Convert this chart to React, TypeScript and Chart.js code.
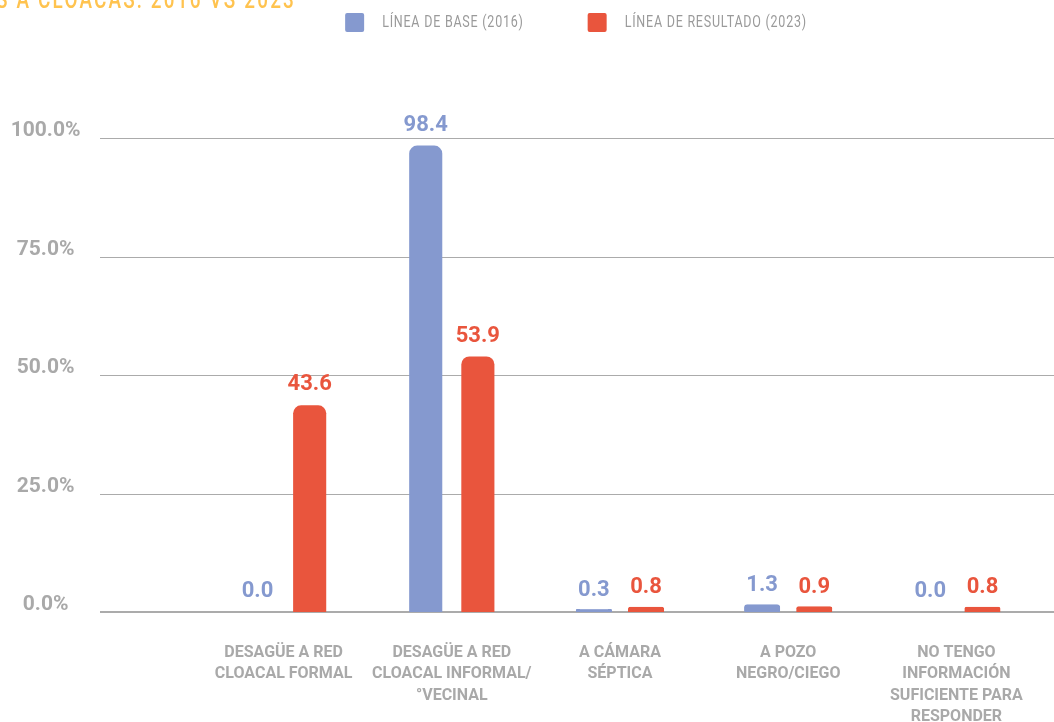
import React, { useEffect, useRef } from 'react';
import { Chart, registerables } from 'chart.js';

Chart.register(...registerables);

// ---- data ----
const categories: string[][] = [
  ['DESAGÜE A RED', 'CLOACAL FORMAL'],
  ['DESAGÜE A RED', 'CLOACAL INFORMAL/', '°VECINAL'],
  ['A CÁMARA', 'SÉPTICA'],
  ['A POZO', 'NEGRO/CIEGO'],
  ['NO TENGO', 'INFORMACIÓN', 'SUFICIENTE PARA', 'RESPONDER'],
];
const base2016 = [0.0, 98.4, 0.3, 1.3, 0.0];
const result2023 = [43.6, 53.9, 0.8, 0.9, 0.8];
const seriesNames = ['LÍNEA DE BASE (2016)', 'LÍNEA DE RESULTADO (2023)'];
const yTickValues = [0, 25, 50, 75, 100];
const titleText = 'S A CLOACAS: 2016 VS 2023';

// ---- styles ----
const BLUE = '#8599CF';
const RED = '#E9553D';
const GRID = '#ABABAB';
const AXIS_TEXT = '#A9A9A9';

const overlayPlugin = {
  id: 'overlay',
  beforeDatasetsDraw(chart: any) {
    const ctx = chart.ctx;
    const y = chart.scales.y;
    ctx.save();
    ctx.strokeStyle = GRID;
    y.ticks.forEach((t: any) => {
      const py = Math.round(y.getPixelForValue(t.value));
      ctx.lineWidth = t.value === 0 ? 2 : 1;
      ctx.beginPath();
      const off = t.value === 0 ? 0 : 0.5;
      ctx.moveTo(100, py + off);
      ctx.lineTo(chart.width, py + off);
      ctx.stroke();
    });
    ctx.restore();
  },
  afterDatasetsDraw(chart: any) {
    const ctx = chart.ctx;
    ctx.save();
    ctx.font = 'bold 22px Roboto, sans-serif';
    ctx.textAlign = 'center';
    ctx.textBaseline = 'alphabetic';
    chart.data.datasets.forEach((ds: any, di: number) => {
      const meta = chart.getDatasetMeta(di);
      ctx.fillStyle = ds.backgroundColor;
      meta.data.forEach((bar: any, i: number) => {
        const v = ds.data[i] as number;
        ctx.fillText(v.toFixed(1), bar.x, bar.y - 15);
      });
    });
    ctx.restore();
  },
  afterDraw(chart: any) {
    const ctx = chart.ctx;
    // title (cut off at the top-left, as in the reference)
    ctx.save();
    ctx.font = '500 26px Roboto, sans-serif';
    (ctx as any).letterSpacing = '3px';
    ctx.fillStyle = '#FFC34F';
    ctx.textBaseline = 'alphabetic';
    ctx.textAlign = 'left';
    const tw = ctx.measureText(titleText).width;
    const tsx = 300 / tw;
    ctx.translate(-4, 8);
    ctx.scale(tsx, 1);
    ctx.fillText(titleText, 0, 0);
    ctx.restore();

    // legend
    ctx.save();
    ctx.font = '16px Roboto, sans-serif';
    (ctx as any).letterSpacing = '1px';
    ctx.textBaseline = 'middle';
    ctx.textAlign = 'left';
    const sx = 0.78;
    const box = 19, gapText = 18, gapItem = 64;
    const widths = chart.data.datasets.map((ds: any) => ctx.measureText(ds.label).width * sx);
    const total = widths.reduce((a: number, w: number) => a + box + gapText + w, 0) + gapItem;
    let x = 576 - total / 2;
    chart.data.datasets.forEach((ds: any, i: number) => {
      ctx.fillStyle = ds.backgroundColor;
      ctx.beginPath();
      (ctx as any).roundRect(x, 13, box, box, 2);
      ctx.fill();
      ctx.fillStyle = '#9A9A9A';
      ctx.save();
      ctx.translate(x + box + gapText, 23);
      ctx.scale(sx, 1);
      ctx.fillText(ds.label, 0, 0);
      ctx.restore();
      x += box + gapText + widths[i] + gapItem;
    });
    ctx.restore();
  },
};

const small = (c: any) => {
  const v = c.raw as number;
  return v > 0 && v < 2;
};

export default function App() {
  const ref = useRef<HTMLCanvasElement | null>(null);

  useEffect(() => {
    if (!ref.current) return;
    const mk = (label: string, data: number[], color: string) => ({
      label,
      data,
      backgroundColor: color,
      borderColor: color,
      borderWidth: (c: any) => (small(c) ? 1 : 0),
      inflateAmount: (c: any) => (small(c) ? 1.5 : 0),
      borderSkipped: (c: any) => (small(c) ? false : 'start'),
      borderRadius: (c: any) => (small(c) ? 4 : { topLeft: 8, topRight: 8, bottomLeft: 0, bottomRight: 0 }),
      categoryPercentage: 0.62,
      barPercentage: 0.635,
    });
    const chart = new Chart(ref.current, {
      type: 'bar',
      data: {
        labels: categories,
        datasets: [
          mk(seriesNames[0], base2016, BLUE),
          mk(seriesNames[1], result2023, RED),
        ],
      },
      plugins: [overlayPlugin],
      options: {
        animation: false,
        responsive: true,
        maintainAspectRatio: false,
        layout: { padding: { top: 138, left: 0, right: 12.5, bottom: 0 } },
        plugins: {
          legend: { display: false },
          tooltip: { enabled: false },
        },
        scales: {
          x: {
            grid: { display: false, drawTicks: false },
            border: { display: false },
            afterFit: (s: any) => { s.height = 110; },
            ticks: {
              autoSkip: false,
              maxRotation: 0,
              minRotation: 0,
              padding: 30,
              color: AXIS_TEXT,
              font: { family: 'Roboto, sans-serif', size: 16, weight: 'bold', lineHeight: '21.5px' },
            },
          },
          y: {
            min: 0,
            max: 100,
            grid: { display: false, drawTicks: false },
            border: { display: false },
            afterFit: (s: any) => {
              s.width = 199.5;
              s.paddingTop = 0;
              s.paddingBottom = 0;
            },
            afterBuildTicks: (s: any) => { s.ticks = yTickValues.map((v) => ({ value: v })); },
            ticks: {
              padding: 119,
              crossAlign: 'center',
              labelOffset: -7,
              color: AXIS_TEXT,
              font: { family: 'Roboto, sans-serif', size: 21, weight: 'bold' },
              callback: (v: any) => Number(v).toFixed(1) + '%',
            },
          },
        },
      } as any,
    });
    return () => chart.destroy();
  }, []);

  return (
    <div style={{ position: 'fixed', left: 0, top: 0, width: 1054, height: 722, background: '#fff' }}>
      <canvas ref={ref} />
    </div>
  );
}
